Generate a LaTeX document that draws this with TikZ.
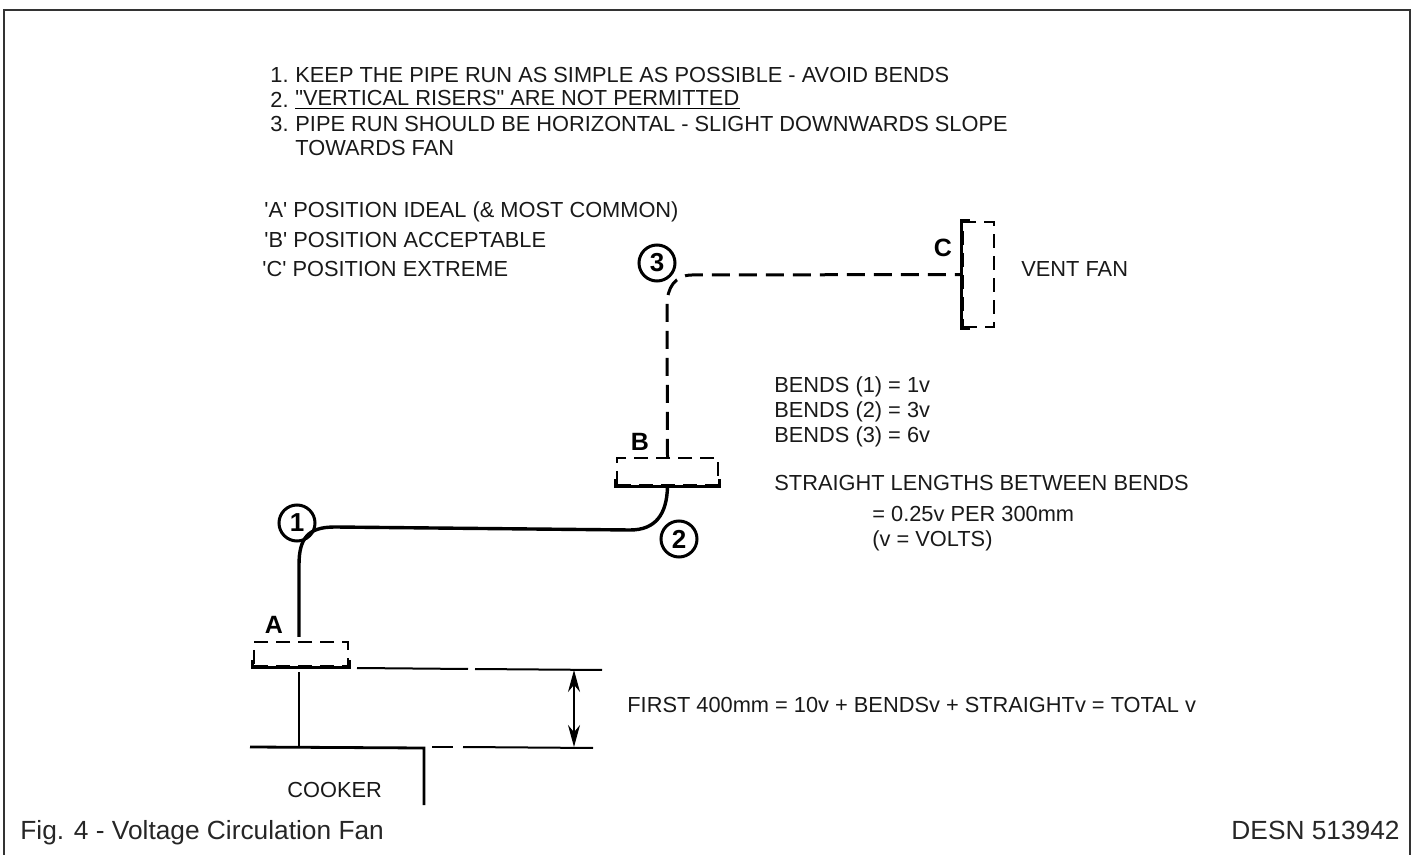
\documentclass[tikz,border=0pt]{standalone}
\usepackage{fontspec}
\newfontfamily\notefont{Liberation Sans}
\usetikzlibrary{arrows.meta}
\tikzset{
  note/.style={anchor=base west,inner sep=0pt,text=black!90,font=\notefont\fontsize{10.9}{12}\selectfont},
  caption/.style={anchor=base west,inner sep=0pt,text=black!85,font=\notefont\fontsize{13.15}{15}\selectfont},
  letter/.style={inner sep=0pt,font=\notefont\bfseries\fontsize{12.5}{14}\selectfont},
  bendmark/.style={circle,draw,line width=1.5pt,minimum size=18pt,inner sep=0pt,font=\notefont\bfseries\fontsize{13}{14}\selectfont},
  pipe/.style={line width=1.7pt},
  fan/.style={draw,dash pattern=on 7pt off 4pt,line width=1.1pt,inner sep=0pt},
  guide/.style={line width=1pt}
}
\begin{document}
\begin{tikzpicture}[x=0.5pt,y=-0.5pt]
\useasboundingbox (0,0) rectangle (1415,855);
\draw[line width=0.7pt,black!80] (4,855) -- (4,10) -- (1410,10) -- (1410,855);
% Notes at the top
\node[note] (n1) at (270,83) {1.};
\node[note] (t1) at (295,83) {KEEP THE PIPE RUN AS SIMPLE AS POSSIBLE - AVOID BENDS};
\node[note] (n2) at (270,108) {2.};
\node[note] (t2) at (295,106) {"VERTICAL RISERS" ARE NOT PERMITTED};
\node[note] (n3) at (270,132) {3.};
\node[note] (t3) at (295,132) {PIPE RUN SHOULD BE HORIZONTAL - SLIGHT DOWNWARDS SLOPE};
\node[note] (t3b) at (295,156) {TOWARDS FAN};
\draw[line width=0.6pt] ([yshift=-1.2pt]t2.base west) -- ([yshift=-1.2pt]t2.base east);
% Positions
\node[note] (posa) at (264,218) {'A' POSITION IDEAL (\& MOST COMMON)};
\node[note] (posb) at (264,248) {'B' POSITION ACCEPTABLE};
\node[note] (posc) at (262,277) {'C' POSITION EXTREME};
% Right hand notes
\node[note] (fanlabel) at (1021,277) {VENT FAN};
\node[note] (bends1) at (774,393) {BENDS (1) = 1v};
\node[note] (bends2) at (774,418) {BENDS (2) = 3v};
\node[note] (bends3) at (774,443) {BENDS (3) = 6v};
\node[note] (straight) at (774,491) {STRAIGHT LENGTHS BETWEEN BENDS};
\node[note] (perlen) at (872,522) {= 0.25v PER 300mm};
\node[note] (volts) at (872,547) {(v = VOLTS)};
\node[note] (first) at (627,712) {FIRST 400mm = 10v + BENDSv + STRAIGHTv = TOTAL v};
\node[note] (cooker) at (287,798) {COOKER};
\node[caption] (fig) at (20,839) {Fig. 4 - Voltage Circulation Fan};
\node[caption,anchor=base east] (desn) at (1400,839) {DESN 513942};
% Fan positions
\node[fan,minimum width=47pt,minimum height=12pt] (boxa) at (301,654) {};
\node[fan,minimum width=50.5pt,minimum height=13.5pt] (boxb) at (667.5,471.5) {};
\node[fan,minimum width=15.5pt,minimum height=52.5pt] (boxc) at (978.5,274.5) {};
\draw[line width=1.5pt] ([yshift=3.5pt]boxa.south west) -- (boxa.south west) -- (boxa.south east) -- ([yshift=3.5pt]boxa.south east);
\draw[line width=1.5pt] ([yshift=3.5pt]boxb.south west) -- (boxb.south west) -- (boxb.south east) -- ([yshift=3.5pt]boxb.south east);
\draw[line width=1.5pt] ([xshift=4pt]boxc.north west) -- (boxc.north west) -- (boxc.south west) -- ([xshift=4pt]boxc.south west);
\node[letter] (la) at (274,625) {A};
\node[letter] (lb) at (640,442) {B};
\node[letter] (lc) at (943,248) {C};
% Bend marks
\node[bendmark] (m1) at (297,523) {1};
\node[bendmark] (m2) at (679,539) {2};
\node[bendmark] (m3) at (657,263) {3};
% Pipe run
\coordinate (pipestart) at (299,637);
\draw[pipe] (pipestart) -- (299,565) .. controls (299,538) and (308,527) .. (335,527)
  -- (630,530) .. controls (655,530) and (667,515) .. (boxb.south);
\draw[pipe,line width=1.5pt,dash pattern=on 9pt off 4.5pt] (boxb.north) -- (667,305)
  .. controls (667,288) and (675,275) .. (692,275) -- (boxc.west);
% Cooker and dimension
\coordinate (stemtop) at (299,672);
\coordinate (hobl) at (250,747);
\coordinate (hobc) at (424,748);
\coordinate (hobb) at (424,805);
\coordinate (stemfoot) at (299,747);
\draw[line width=1.4pt] (stemtop) -- (stemfoot);
\draw[line width=1.4pt] (hobl) -- (hobc) -- (hobb);
\coordinate (up1) at (357,668);
\coordinate (up2) at (468,669);
\coordinate (up3) at (475,669);
\coordinate (up4) at (602,670);
\coordinate (lo1) at (432,747);
\coordinate (lo2) at (453,747);
\coordinate (lo3) at (463,747);
\coordinate (lo4) at (593,748);
\draw[guide] (up1) -- (up2);
\draw[guide] (up3) -- (up4);
\draw[guide] (lo1) -- (lo2);
\draw[guide] (lo3) -- (lo4);
\coordinate (dimtop) at (574,670);
\coordinate (dimbot) at (574,747);
\draw[{Stealth[length=11pt,width=6pt]}-{Stealth[length=11pt,width=6pt]},line width=0.9pt] (dimtop) -- (dimbot);
\end{tikzpicture}
\end{document}
